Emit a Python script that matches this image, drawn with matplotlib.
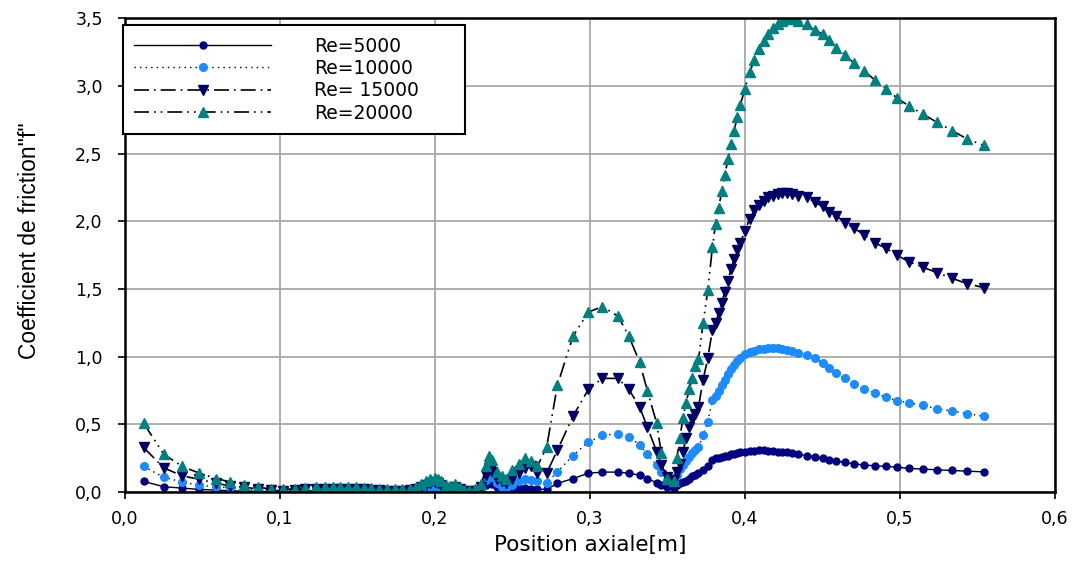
import matplotlib
matplotlib.use("Agg")
import matplotlib.pyplot as plt
from matplotlib.ticker import FuncFormatter, MultipleLocator

# axial positions (shared by all four runs)
x_pos = [0.012, 0.025, 0.037, 0.048, 0.059, 0.068, 0.077, 0.086, 0.094, 0.102, 0.110, 0.116, 0.123, 0.129,
         0.134, 0.139, 0.144, 0.149, 0.154, 0.159, 0.164, 0.169, 0.174, 0.179, 0.184, 0.188,
         0.191, 0.194, 0.197, 0.200, 0.202, 0.204, 0.207, 0.210, 0.213, 0.216, 0.219, 0.222,
         0.226, 0.230, 0.233, 0.235, 0.237, 0.240, 0.243, 0.246, 0.250, 0.254, 0.258, 0.262, 0.266, 0.272,
         0.279, 0.289, 0.299, 0.308, 0.318, 0.325, 0.332, 0.337, 0.343, 0.346, 0.350, 0.354,
         0.356, 0.358, 0.360, 0.362, 0.364, 0.366, 0.368, 0.370, 0.373, 0.376, 0.379,
         0.381, 0.383, 0.385, 0.387, 0.389, 0.391, 0.393, 0.395, 0.397, 0.400, 0.403, 0.406, 0.409,
         0.412, 0.415, 0.418, 0.421, 0.424, 0.427, 0.430, 0.434,
         0.440, 0.445, 0.450, 0.454, 0.459, 0.4645, 0.470, 0.477, 0.484, 0.491, 0.498, 0.506, 0.515,
         0.524, 0.5335, 0.543, 0.554]

f_re5000 = [0.08, 0.04, 0.03, 0.02, 0.015, 0.01, 0.008, 0.005, 0.005, 0.005, 0.008, 0.01, 0.01, 0.01,
            0.01, 0.01, 0.01, 0.01, 0.008, 0.008, 0.006, 0.005, 0.005, 0.005, 0.006, 0.01,
            0.015, 0.02, 0.028, 0.03, 0.028, 0.02, 0.012, 0.01, 0.012, 0.008, 0.004, 0.003,
            0.004, 0.015, 0.05, 0.07, 0.06, 0.04, 0.025, 0.02, 0.025, 0.03, 0.03, 0.025, 0.022, 0.02,
            0.065, 0.10, 0.14, 0.148, 0.148, 0.14, 0.126, 0.10, 0.07, 0.05, 0.035, 0.03,
            0.05, 0.065, 0.075, 0.085, 0.10, 0.12, 0.13, 0.14, 0.16, 0.19, 0.24,
            0.25, 0.255, 0.26, 0.265, 0.27, 0.28, 0.285, 0.29, 0.295, 0.30, 0.305, 0.305, 0.31,
            0.31, 0.305, 0.305, 0.30, 0.30, 0.295, 0.29, 0.28,
            0.27, 0.26, 0.25, 0.24, 0.23, 0.22, 0.21, 0.20, 0.195, 0.19, 0.185, 0.175, 0.17,
            0.165, 0.16, 0.155, 0.15]

f_re10000 = [0.19, 0.11, 0.075, 0.05, 0.04, 0.03, 0.02, 0.015, 0.01, 0.01, 0.01, 0.015, 0.015, 0.015,
             0.015, 0.015, 0.015, 0.015, 0.012, 0.012, 0.01, 0.008, 0.008, 0.008, 0.01, 0.015,
             0.02, 0.03, 0.04, 0.045, 0.04, 0.03, 0.02, 0.015, 0.02, 0.015, 0.008, 0.005,
             0.008, 0.03, 0.09, 0.13, 0.11, 0.07, 0.04, 0.03, 0.05, 0.08, 0.10, 0.09, 0.08, 0.07,
             0.15, 0.27, 0.37, 0.42, 0.43, 0.41, 0.35, 0.28, 0.20, 0.15, 0.09, 0.075,
             0.13, 0.17, 0.20, 0.23, 0.26, 0.29, 0.31, 0.33, 0.42, 0.52, 0.68,
             0.71, 0.75, 0.79, 0.83, 0.87, 0.91, 0.94, 0.97, 0.99, 1.02, 1.035, 1.045, 1.055,
             1.06, 1.065, 1.065, 1.065, 1.06, 1.05, 1.04, 1.025,
             1.01, 0.99, 0.955, 0.92, 0.88, 0.84, 0.80, 0.76, 0.73, 0.70, 0.675, 0.66, 0.64,
             0.615, 0.60, 0.58, 0.56]

f_re15000 = [0.33, 0.18, 0.12, 0.095, 0.065, 0.045, 0.035, 0.025, 0.015, 0.01, 0.015, 0.02, 0.02, 0.02,
             0.02, 0.02, 0.02, 0.02, 0.02, 0.015, 0.015, 0.01, 0.01, 0.01, 0.015, 0.02,
             0.04, 0.055, 0.07, 0.075, 0.07, 0.055, 0.03, 0.025, 0.035, 0.025, 0.01, 0.005,
             0.01, 0.04, 0.13, 0.18, 0.15, 0.10, 0.08, 0.07, 0.10, 0.14, 0.18, 0.19, 0.14, 0.14,
             0.31, 0.56, 0.76, 0.84, 0.84, 0.76, 0.63, 0.48, 0.30, 0.20, 0.11, 0.09,
             0.15, 0.21, 0.30, 0.40, 0.48, 0.54, 0.58, 0.63, 0.83, 0.99, 1.20,
             1.25, 1.32, 1.40, 1.48, 1.56, 1.65, 1.72, 1.79, 1.84, 1.93, 2.02, 2.08, 2.12,
             2.15, 2.18, 2.19, 2.20, 2.21, 2.21, 2.20, 2.19,
             2.18, 2.14, 2.11, 2.07, 2.04, 1.99, 1.95, 1.90, 1.84, 1.80, 1.75, 1.70, 1.66,
             1.62, 1.58, 1.54, 1.51]

f_re20000 = [0.51, 0.28, 0.19, 0.14, 0.10, 0.075, 0.055, 0.035, 0.025, 0.02, 0.025, 0.03, 0.035, 0.035,
             0.035, 0.035, 0.035, 0.035, 0.03, 0.03, 0.025, 0.02, 0.02, 0.02, 0.025, 0.035,
             0.06, 0.08, 0.10, 0.105, 0.10, 0.08, 0.05, 0.045, 0.06, 0.04, 0.015, 0.01,
             0.02, 0.06, 0.19, 0.27, 0.24, 0.15, 0.12, 0.10, 0.16, 0.21, 0.25, 0.23, 0.19, 0.33,
             0.79, 1.15, 1.33, 1.37, 1.30, 1.155, 0.96, 0.75, 0.51, 0.29, 0.10, 0.08,
             0.25, 0.40, 0.55, 0.66, 0.76, 0.84, 0.93, 0.98, 1.25, 1.49, 1.81,
             1.98, 2.10, 2.22, 2.34, 2.46, 2.57, 2.67, 2.77, 2.86, 2.98, 3.10, 3.19, 3.27,
             3.33, 3.38, 3.43, 3.46, 3.48, 3.49, 3.49, 3.48,
             3.46, 3.41, 3.385, 3.34, 3.28, 3.23, 3.17, 3.11, 3.04, 2.98, 2.91, 2.85, 2.79,
             2.73, 2.67, 2.61, 2.56]

labels = ["Re=5000", "Re=10000", "Re= 15000", "Re=20000"]

plt.rcParams['font.family'] = ['DejaVu Sans']

fig = plt.figure(figsize=(10.77, 5.67), dpi=100)
ax = fig.add_axes([0.116, 0.132, 0.8636, 0.836])

ax.plot(x_pos, f_re5000, color='black', lw=1.0, ls='-',
        marker='o', ms=5, mfc='#000080', mec='#000080', label=labels[0])
ax.plot(x_pos, f_re10000, color='black', lw=1.0, ls=(0, (1, 3)),
        marker='o', ms=5.5, mfc='#1a8cff', mec='#1a8cff', label=labels[1])
ax.plot(x_pos, f_re15000, color='black', lw=1.2, ls=(0, (9, 3, 1, 3)),
        marker='v', ms=7, mfc='#000066', mec='#000066', label=labels[2])
ax.plot(x_pos, f_re20000, color='black', lw=1.2, ls=(0, (9, 3, 1, 3, 1, 3)),
        marker='^', ms=7, mfc='#008080', mec='#008080', label=labels[3])

ax.set_xlim(0, 0.6)
ax.set_ylim(0, 3.5)
ax.xaxis.set_major_locator(MultipleLocator(0.1))
ax.yaxis.set_major_locator(MultipleLocator(0.5))
comma = FuncFormatter(lambda v, p: f"{v:.1f}".replace('.', ','))
ax.xaxis.set_major_formatter(comma)
ax.yaxis.set_major_formatter(comma)
ax.tick_params(direction='out', length=5, width=1.2, labelsize=12.5, color='black')
ax.tick_params(axis='y', pad=11)
ax.tick_params(axis='x', pad=8)
ax.grid(True, color='#a8a8a8', lw=1.3)
ax.set_axisbelow(True)
for s in ax.spines.values():
    s.set_color('black')
    s.set_linewidth(1.8)

ax.set_xlabel("Position axiale[m]", fontsize=15.5, labelpad=5)
ax.set_ylabel('Coefficient de friction"f"', fontsize=16.5, family='Liberation Sans')
ax.yaxis.set_label_coords(-0.09, 0.53)

leg = ax.legend(loc='upper left', bbox_to_anchor=(-0.002, 0.5, 0.368, 0.485), mode='expand',
                borderaxespad=0, fontsize=13.5,
                handlelength=7.3, handletextpad=2.3, labelspacing=0.18,
                borderpad=0.6, fancybox=False, framealpha=1, edgecolor='black')
leg.get_frame().set_linewidth(1.5)

plt.savefig("out.png", dpi=100)
